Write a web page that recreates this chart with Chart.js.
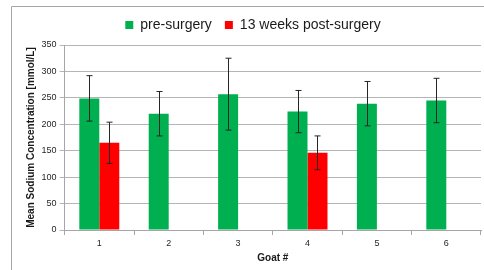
<!DOCTYPE html>
<html>
<head>
<meta charset="utf-8">
<script src="https://cdn.jsdelivr.net/npm/chart.js@4"></script>
<style>
  html, body { margin: 0; padding: 0; background: #fff; }
  #wrap { width: 484px; height: 270px; }
</style>
</head>
<body>
<div id="wrap"><canvas id="graphique" width="484" height="270"></canvas></div>
<script>
const goats = ['1', '2', '3', '4', '5', '6'];
const preSurgery = [249, 220, 257, 224, 239, 245];
const preErr = [43, 42, 68, 40, 42, 42];
const postSurgery = [165, null, null, 146, null, null];
const postErr = [39, null, null, 32, null, null];
const errors = [preErr, postErr];

// frame of the original figure (top and left edges only are visible)
const cadre = {
    id: 'cadre',
    beforeDraw(chart) {
        const ctx = chart.ctx;
        ctx.save();
        ctx.strokeStyle = '#a6a6a6';
        ctx.lineWidth = 1;
        ctx.beginPath();
        ctx.moveTo(11.5, 270);
        ctx.lineTo(11.5, 6.5);
        ctx.lineTo(484, 6.5);
        ctx.stroke();
        ctx.restore();
    }
};

// fixed legend height so the plot starts at the right place
const legendHeight = {
    id: 'legendHeight',
    beforeInit(chart) {
        const fit = chart.legend.fit;
        chart.legend.fit = function () {
            fit.bind(chart.legend)();
            this.height = 40;
        };
    }
};

const barresErreur = {
    id: 'barresErreur',
    afterDatasetsDraw(chart) {
        const ctx = chart.ctx;
        const y = chart.scales.y;
        ctx.save();
        ctx.strokeStyle = '#262626';
        ctx.lineWidth = 1;
        chart.data.datasets.forEach((ds, i) => {
            const meta = chart.getDatasetMeta(i);
            meta.data.forEach((bar, j) => {
                const v = ds.data[j];
                const e = errors[i][j];
                if (v == null || e == null) return;
                const x = Math.round(bar.x) + 0.5;
                const haut = y.getPixelForValue(v + e);
                const bas = y.getPixelForValue(v - e);
                ctx.beginPath();
                ctx.moveTo(x, haut);
                ctx.lineTo(x, bas);
                ctx.moveTo(x - 3, haut);
                ctx.lineTo(x + 3, haut);
                ctx.moveTo(x - 3, bas);
                ctx.lineTo(x + 3, bas);
                ctx.stroke();
            });
        });
        ctx.restore();
    }
};

const ctx = document.getElementById('graphique').getContext('2d');
let graphique = new Chart(ctx, {
    type: 'bar',
    data: {
        labels: goats,
        datasets: [{
            label: 'pre-surgery',
            data: preSurgery,
            backgroundColor: '#00b050',
            borderWidth: 0
        }, {
            label: '13 weeks post-surgery',
            data: postSurgery,
            backgroundColor: '#ff0000',
            borderWidth: 0
        }]
    },
    options: {
        responsive: false,
        animation: false,
        categoryPercentage: 0.576,
        barPercentage: 1,
        layout: {
            padding: { top: 5, left: 25, right: 3, bottom: 6 }
        },
        plugins: {
            legend: {
                position: 'top',
                labels: {
                    boxWidth: 8,
                    boxHeight: 8,
                    padding: 13,
                    color: '#1a1a1a',
                    font: { family: 'Liberation Sans', size: 14 }
                }
            },
            tooltip: { enabled: false }
        },
        scales: {
            x: {
                afterFit(scale) { scale.height = 34; },
                grid: {
                    drawOnChartArea: false,
                    offset: true,
                    tickLength: 5,
                    color: '#a6a6a6'
                },
                border: { color: '#a6a6a6' },
                ticks: {
                    padding: 3,
                    color: '#262626',
                    font: { family: 'Liberation Sans', size: 9 }
                },
                title: {
                    display: true,
                    text: 'Goat #',
                    padding: 0,
                    color: '#1a1a1a',
                    font: { family: 'Liberation Sans', size: 10, weight: 'bold' }
                }
            },
            y: {
                min: 0,
                max: 350,
                afterFit(scale) { scale.width = 39.6; },
                grid: {
                    color: '#b5b5b5',
                    tickLength: 5
                },
                border: { color: '#a6a6a6' },
                ticks: {
                    stepSize: 50,
                    padding: 3,
                    color: '#262626',
                    font: { family: 'Liberation Sans', size: 9 }
                },
                title: {
                    display: true,
                    text: 'Mean Sodium Concentration [mmol/L]',
                    padding: 0,
                    color: '#1a1a1a',
                    font: { family: 'Liberation Sans', size: 10, weight: 'bold' }
                }
            }
        }
    },
    plugins: [cadre, legendHeight, barresErreur]
});
</script>
</body>
</html>
